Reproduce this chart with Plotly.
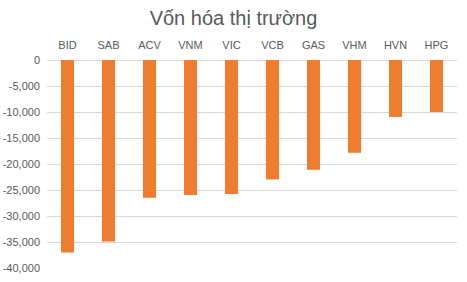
import plotly.graph_objects as go

categories = ["BID", "SAB", "ACV", "VNM", "VIC", "VCB", "GAS", "VHM", "HVN", "HPG"]
values = [-37000, -34900, -26500, -25950, -25770, -23000, -21100, -17850, -10950, -10000]
tick_vals = [0, -5000, -10000, -15000, -20000, -25000, -30000, -35000, -40000]
tick_text = ["0", "-5,000", "-10,000", "-15,000", "-20,000", "-25,000", "-30,000", "-35,000", "-40,000"]

font_family = "Liberation Sans, Arial, sans-serif"

fig = go.Figure(go.Bar(
    x=categories, y=values,
    marker=dict(color="#ED7D31", line=dict(width=0)),
    width=0.32,
))

fig.update_layout(
    width=467, height=282,
    margin=dict(l=47, r=10, t=60, b=14),
    paper_bgcolor="white", plot_bgcolor="white",
    showlegend=False,
    title=dict(text="Vốn hóa thị trường", x=0.5, xanchor="center", y=0.935, yanchor="middle",
               font=dict(family=font_family, size=20, color="#595959")),
    xaxis=dict(side="top", showgrid=False, showline=False, ticks="", zeroline=False,
               automargin=False,
               tickfont=dict(family=font_family, size=11, color="#595959"),
               ticklabelstandoff=8),
    yaxis=dict(range=[-40000, 0], tickvals=tick_vals, ticktext=tick_text,
               automargin=False,
               showgrid=True, gridcolor="#d9d9d9", gridwidth=1,
               zeroline=True, zerolinecolor="#d9d9d9", zerolinewidth=1,
               showline=False, ticks="",
               tickfont=dict(family=font_family, size=11, color="#595959"),
               ticklabelstandoff=6),
    font=dict(family=font_family, color="#595959"),
)

fig.write_html("out.html")
